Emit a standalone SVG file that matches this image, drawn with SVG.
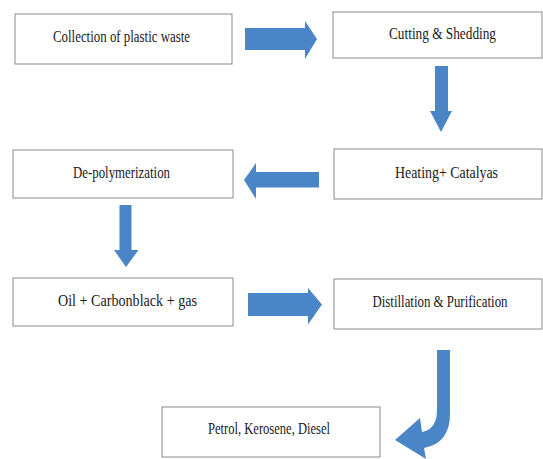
<svg xmlns="http://www.w3.org/2000/svg" width="543" height="459" viewBox="0 0 543 459">
<style>
.box{fill:#ffffff;stroke:#8a8a8a;stroke-width:1}
.lbl{font-family:"Liberation Serif","Times New Roman",serif;font-size:16px;fill:#1a1a1a;text-anchor:middle}
.arr{fill:#4a86c7}
</style>
<rect width="543" height="459" fill="#ffffff"/>
<g id="n1"><rect class="box" x="15" y="14" width="217" height="50"/><text class="lbl" x="121.5" y="42" textLength="137" lengthAdjust="spacingAndGlyphs">Collection of plastic waste</text></g>
<g id="n2"><rect class="box" x="333" y="12" width="209" height="46"/><text class="lbl" x="442.5" y="39" textLength="107" lengthAdjust="spacingAndGlyphs">Cutting &amp; Shedding</text></g>
<g id="n3"><rect class="box" x="334" y="149" width="208" height="50"/><text class="lbl" x="446.5" y="178" textLength="103" lengthAdjust="spacingAndGlyphs">Heating+ Catalyas</text></g>
<g id="n4"><rect class="box" x="13" y="150" width="220" height="48"/><text class="lbl" x="121.5" y="178" textLength="97" lengthAdjust="spacingAndGlyphs">De-polymerization</text></g>
<g id="n5"><rect class="box" x="13" y="278" width="220" height="48"/><text class="lbl" x="127.5" y="306" textLength="139" lengthAdjust="spacingAndGlyphs">Oil + Carbonblack + gas</text></g>
<g id="n6"><rect class="box" x="334" y="279" width="208" height="50"/><text class="lbl" x="440" y="307" textLength="135" lengthAdjust="spacingAndGlyphs">Distillation &amp; Purification</text></g>
<g id="n7"><rect class="box" x="162" y="407" width="218" height="50"/><text class="lbl" x="269" y="434" textLength="122" lengthAdjust="spacingAndGlyphs">Petrol, Kerosene, Diesel</text></g>
<g id="connectors">
<polygon class="arr" points="245,28 305,28 305,21 317,39 305,59 305,50 245,50"/>
<polygon class="arr" points="435,66 448,66 448,111 452,111 441,132 430,111 435,111"/>
<polygon class="arr" points="319,172 256,172 256,163 244,180 256,199 256,187.5 319,187.5"/>
<polygon class="arr" points="119.5,205 131.5,205 131.5,250 138.5,250 126,267 114,250 119.5,250"/>
<polygon class="arr" points="248,293 308,293 308,288 322,304.5 308,324.5 308,316 248,316"/>
<path class="arr" d="M437,350 H450 V414 Q450,443 424,448 L426,459 L395,440 L420,418 L422,432 Q437,429 437,410 Z"/>
</g>
</svg>
